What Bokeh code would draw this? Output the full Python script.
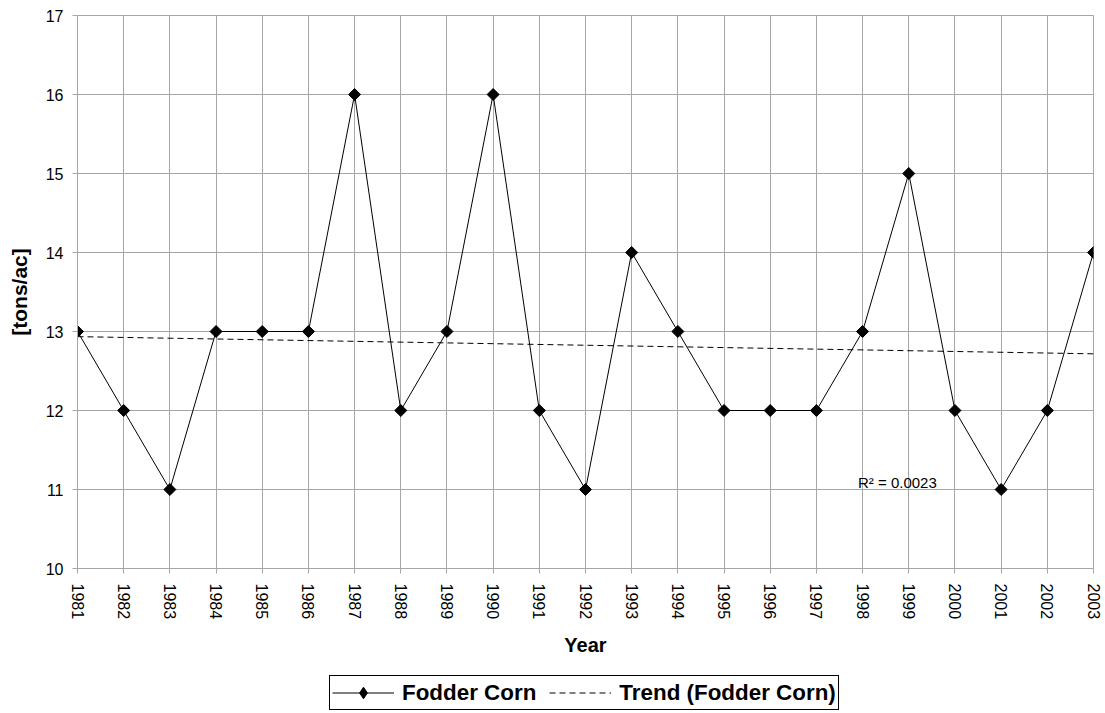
import numpy as np
from bokeh.plotting import figure
from bokeh.layouts import column
from bokeh.models import FixedTicker, Legend, LegendItem, Label, Range1d
from bokeh.embed import file_html
from bokeh.resources import INLINE

# ---- data ----
years = list(range(1981, 2004))
fodder_corn = [13, 12, 11, 13, 13, 13, 16, 12, 13, 16, 12, 11, 14, 13, 12, 12, 12, 13, 15, 12, 11, 12, 14]
y_ticks = [10, 11, 12, 13, 14, 15, 16, 17]
series_name = "Fodder Corn"
trend_name = "Trend (Fodder Corn)"
r2_text = "R\u00b2 = 0.0023"

# linear trend (least squares fit of the series)
slope, intercept = np.polyfit(years, fodder_corn, 1)
trend_x = [years[0], years[-1]]
trend_y = [slope * x + intercept for x in trend_x]

FONT = "Liberation Sans"
GRID = "#a6a6a6"
W = 1105

# ---------------- main chart ----------------
p = figure(width=W, height=668,
           x_range=Range1d(years[0], years[-1]), y_range=Range1d(y_ticks[0], y_ticks[-1]),
           output_backend="svg", toolbar_location=None,
           min_border_left=77, min_border_right=12, min_border_top=15, min_border_bottom=100)
p.background_fill_color = "white"
p.border_fill_color = "white"
p.outline_line_color = GRID
p.outline_line_width = 1

p.line(trend_x, trend_y, line_color="black", line_width=1, line_dash="6 4")
p.line(years, fodder_corn, line_color="black", line_width=1)
p.scatter(years, fodder_corn, marker="square", angle=np.pi / 4, size=8.5,
          fill_color="black", line_color="black")

p.xaxis.ticker = FixedTicker(ticks=years)
p.yaxis.ticker = FixedTicker(ticks=y_ticks)
p.xgrid.ticker = FixedTicker(ticks=years)
p.ygrid.ticker = FixedTicker(ticks=y_ticks)
p.grid.grid_line_color = GRID
p.grid.grid_line_width = 1

for ax in (p.xaxis[0], p.yaxis[0]):
    ax.axis_line_color = GRID
    ax.major_tick_line_color = GRID
    ax.major_tick_out = 5
    ax.major_tick_in = 0
    ax.minor_tick_line_color = None
    ax.major_label_text_font = FONT
    ax.major_label_text_font_size = "16px"
    ax.major_label_text_color = "black"
    ax.axis_label_text_font = FONT
    ax.axis_label_text_font_style = "bold"
    ax.axis_label_text_color = "black"

p.xaxis.axis_label_text_font_size = "20px"
p.yaxis.axis_label_text_font_size = "21px"
p.xaxis.major_label_orientation = -np.pi / 2
p.xaxis.major_label_standoff = 10
p.yaxis.major_label_standoff = 9
p.xaxis.axis_label = "Year"
p.yaxis.axis_label = "[tons/ac]"
p.xaxis.axis_label_standoff = 12
p.yaxis.axis_label_standoff = 12

p.add_layout(Label(x=1997.9, y=11.09, text=r2_text, text_font=FONT, text_font_size="15px",
                   text_color="black", text_baseline="alphabetic"))

# ---------------- legend strip ----------------
lg = figure(width=W, height=45, x_range=Range1d(0, W), y_range=Range1d(0, 45),
            x_axis_location=None, y_axis_location=None,
            output_backend="svg", toolbar_location=None,
            min_border_left=0, min_border_right=0, min_border_top=0, min_border_bottom=0)
lg.grid.visible = False
lg.outline_line_color = None
lg.background_fill_color = "white"
lg.border_fill_color = "white"

nan = np.array([np.nan])
k_line = lg.line(nan, nan, line_color="black", line_width=1)
k_pts = lg.scatter(nan, nan, marker="diamond", size=12, fill_color="black", line_color="black")
k_trend = lg.line(nan, nan, line_color="black", line_width=1, line_dash="6 4")

legend = Legend(items=[LegendItem(label=series_name, renderers=[k_line, k_pts]),
                       LegendItem(label=trend_name, renderers=[k_trend])],
                orientation="horizontal", location=(252, 3),
                border_line_color="black", border_line_width=1, border_line_alpha=1,
                background_fill_color="white", background_fill_alpha=1,
                label_text_font=FONT, label_text_font_style="bold", label_text_font_size="22.4px",
                label_text_color="black",
                glyph_width=62, glyph_height=29, label_standoff=8, spacing=13,
                padding=2, margin=0)
lg.add_layout(legend, "center")

layout = column(p, lg, spacing=0)
open("out.html", "w").write(file_html(layout, INLINE))
